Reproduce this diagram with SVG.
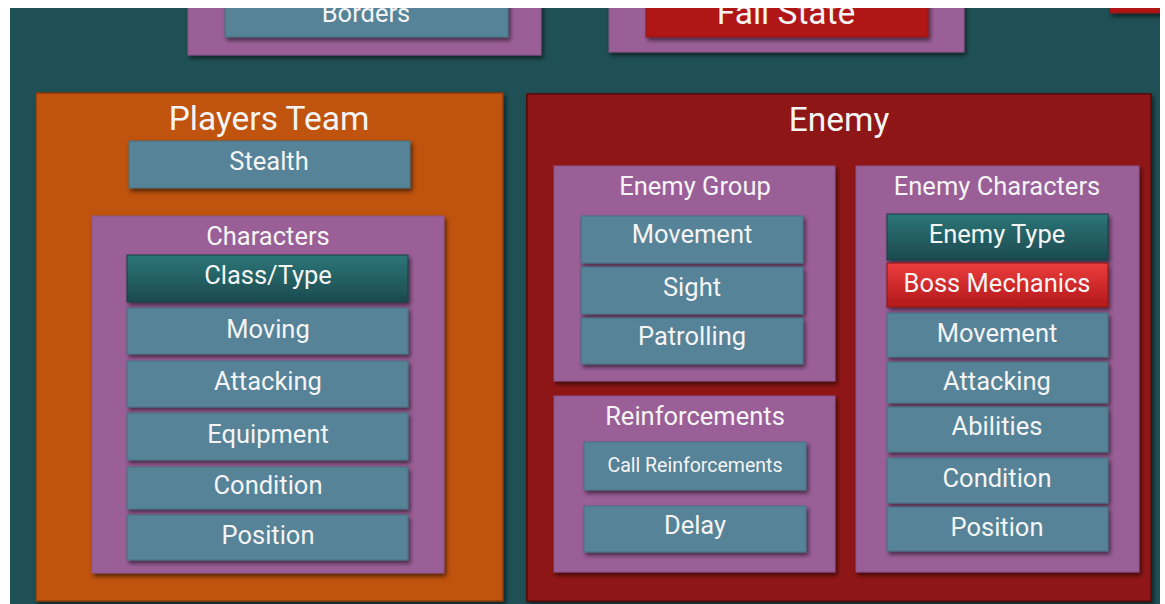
<svg xmlns="http://www.w3.org/2000/svg" width="1165" height="604" viewBox="0 0 1165 604">
  <defs>
    <clipPath id="canvas">
      <rect x="10" y="8" width="1150" height="596"/>
    </clipPath>
    <filter id="shadow" x="-10%" y="-10%" width="130%" height="140%">
      <feDropShadow dx="2" dy="3" stdDeviation="2" flood-color="#000" flood-opacity="0.55"/>
    </filter>
    <linearGradient id="tealGrad" x1="0" y1="0" x2="0" y2="1">
      <stop offset="0" stop-color="#2c7678"/>
      <stop offset="1" stop-color="#1c4a4e"/>
    </linearGradient>
    <linearGradient id="bossGrad" x1="0" y1="0" x2="0" y2="1">
      <stop offset="0" stop-color="#ec3c3c"/>
      <stop offset="1" stop-color="#b2191b"/>
    </linearGradient>
    <style>
      .bg { fill: #1f5055; }
      .team { fill: #c0530f; stroke: #8a3908; stroke-width: 1.5; filter: url(#shadow); }
      .enemy { fill: #8f1212; stroke: #5c0808; stroke-width: 1.5; filter: url(#shadow); }
      .group { fill: #9b5f98; stroke: #8a5287; stroke-width: 1; filter: url(#shadow); }
      .item { fill: #568397; stroke: #467182; stroke-width: 1; filter: url(#shadow); }
      .type { fill: url(#tealGrad); stroke: #173f42; stroke-width: 1; filter: url(#shadow); }
      .boss { fill: url(#bossGrad); stroke: #8e1212; stroke-width: 1; filter: url(#shadow); }
      .fail { fill: #b01818; stroke: #8e1212; stroke-width: 1; filter: url(#shadow); }
      text { font-family: Roboto, "Liberation Sans", sans-serif; fill: #f4f4f4; text-anchor: middle; }
      .big { font-size: 33.5px; }
      .mid { font-size: 25.5px; }
      .small { font-size: 19.5px; }
    </style>
  </defs>

  <rect x="0" y="0" width="1165" height="604" fill="#ffffff"/>

  <g clip-path="url(#canvas)">
    <rect class="bg" x="10" y="8" width="1150" height="596"/>

    <!-- top row, cut off by the edge of the sheet -->
    <g id="borders-group">
      <rect class="group" x="188" y="-40" width="353" height="95"/>
      <g id="borders">
        <rect class="item" x="225" y="-20" width="283" height="57"/>
        <text class="mid" x="366" y="22">Borders</text>
      </g>
    </g>
    <g id="fail-group">
      <rect class="group" x="609" y="-40" width="355" height="92"/>
      <g id="fail-state">
        <rect class="fail" x="646" y="-20" width="282" height="57"/>
        <text class="big" x="786" y="24">Fail State</text>
      </g>
    </g>
    <g id="top-right">
      <rect class="fail" x="1110" y="-20" width="60" height="33"/>
    </g>

    <!-- players team -->
    <g id="players-team">
      <rect class="team" x="36" y="93" width="467" height="508"/>
      <text class="big" x="269" y="130">Players Team</text>
      <g id="stealth">
        <rect class="item" x="129" y="141" width="281" height="47"/>
        <text class="mid" x="269" y="170">Stealth</text>
      </g>
      <g id="characters">
        <rect class="group" x="92" y="216" width="352" height="357"/>
        <text class="mid" x="268" y="245">Characters</text>
        <g id="class-type">
          <rect class="type" x="127" y="255" width="281" height="47"/>
          <text class="mid" x="268" y="284">Class/Type</text>
        </g>
        <g id="moving">
          <rect class="item" x="127" y="308" width="281" height="46"/>
          <text class="mid" x="268" y="338">Moving</text>
        </g>
        <g id="attacking">
          <rect class="item" x="127" y="361" width="281" height="46"/>
          <text class="mid" x="268" y="390">Attacking</text>
        </g>
        <g id="equipment">
          <rect class="item" x="127" y="413" width="281" height="47"/>
          <text class="mid" x="268" y="443">Equipment</text>
        </g>
        <g id="condition">
          <rect class="item" x="127" y="467" width="281" height="42"/>
          <text class="mid" x="268" y="494">Condition</text>
        </g>
        <g id="position">
          <rect class="item" x="127" y="515" width="281" height="45"/>
          <text class="mid" x="268" y="544">Position</text>
        </g>
      </g>
    </g>

    <!-- enemy -->
    <g id="enemy">
      <rect class="enemy" x="527" y="94" width="624" height="507"/>
      <text class="big" x="839" y="131">Enemy</text>

      <g id="enemy-group">
        <rect class="group" x="554" y="166" width="281" height="215"/>
        <text class="mid" x="695" y="195">Enemy Group</text>
        <g id="eg-movement">
          <rect class="item" x="581" y="216" width="222" height="47"/>
          <text class="mid" x="692" y="243">Movement</text>
        </g>
        <g id="eg-sight">
          <rect class="item" x="581" y="267" width="222" height="47"/>
          <text class="mid" x="692" y="296">Sight</text>
        </g>
        <g id="eg-patrolling">
          <rect class="item" x="581" y="318" width="222" height="46"/>
          <text class="mid" x="692" y="345">Patrolling</text>
        </g>
      </g>

      <g id="reinforcements">
        <rect class="group" x="554" y="396" width="281" height="176"/>
        <text class="mid" x="695" y="425">Reinforcements</text>
        <g id="call-reinforcements">
          <rect class="item" x="584" y="442" width="222" height="48"/>
          <text class="small" x="695" y="472">Call Reinforcements</text>
        </g>
        <g id="delay">
          <rect class="item" x="584" y="506" width="222" height="46"/>
          <text class="mid" x="695" y="534">Delay</text>
        </g>
      </g>

      <g id="enemy-characters">
        <rect class="group" x="856" y="166" width="283" height="406"/>
        <text class="mid" x="997" y="195">Enemy Characters</text>
        <g id="enemy-type">
          <rect class="type" x="887" y="214" width="221" height="46"/>
          <text class="mid" x="997" y="243">Enemy Type</text>
        </g>
        <g id="boss-mechanics">
          <rect class="boss" x="887" y="263" width="221" height="44"/>
          <text class="mid" x="997" y="292">Boss Mechanics</text>
        </g>
        <g id="ec-movement">
          <rect class="item" x="887" y="313" width="221" height="44"/>
          <text class="mid" x="997" y="342">Movement</text>
        </g>
        <g id="ec-attacking">
          <rect class="item" x="887" y="362" width="221" height="41"/>
          <text class="mid" x="997" y="390">Attacking</text>
        </g>
        <g id="ec-abilities">
          <rect class="item" x="887" y="407" width="221" height="45"/>
          <text class="mid" x="997" y="435">Abilities</text>
        </g>
        <g id="ec-condition">
          <rect class="item" x="887" y="458" width="221" height="45"/>
          <text class="mid" x="997" y="487">Condition</text>
        </g>
        <g id="ec-position">
          <rect class="item" x="887" y="507" width="221" height="44"/>
          <text class="mid" x="997" y="536">Position</text>
        </g>
      </g>
    </g>

    <!-- no connectors in this layout -->
    <g id="connectors"/>
  </g>
</svg>
